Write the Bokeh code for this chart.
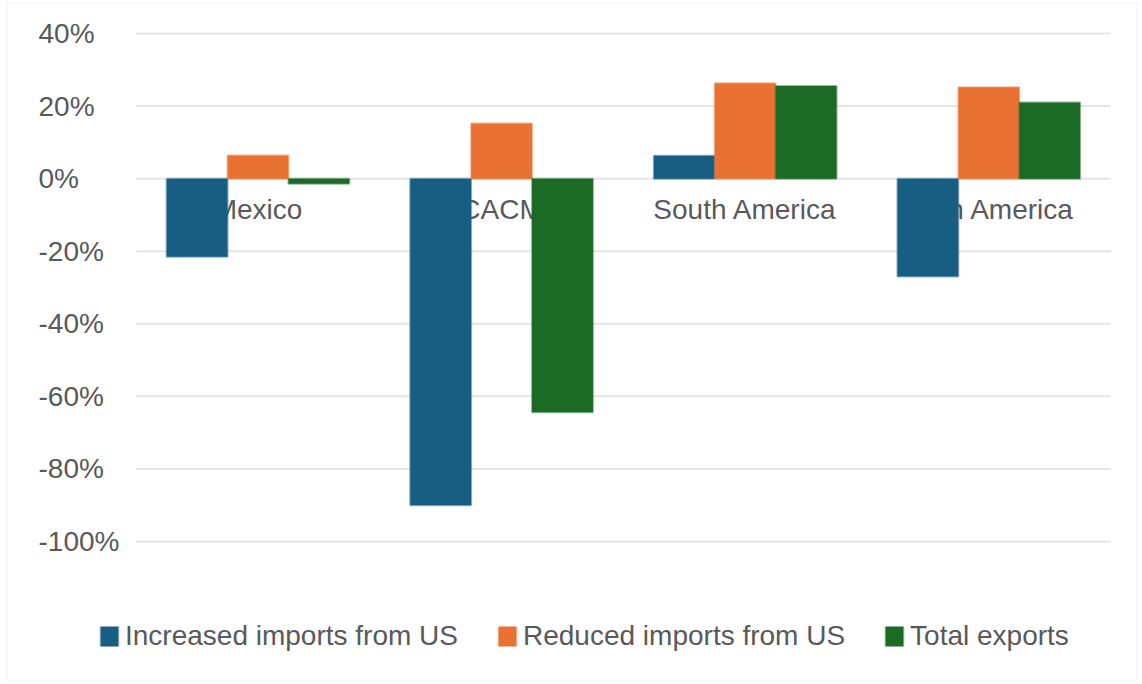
from bokeh.plotting import figure
from bokeh.models import (Range1d, Label, Legend, LegendItem,
                          ColumnDataSource, BoxAnnotation)
from bokeh.transform import dodge
from bokeh.embed import file_html
from bokeh.resources import INLINE
from bokeh.core.properties import value

# ---- data ----
categories = ["Mexico", "CACM", "South America", "Latin America"]
series_names = ["Increased imports from US", "Reduced imports from US", "Total exports"]
increased_imports = [-21.5, -90.0, 6.3, -27.0]
reduced_imports = [6.4, 15.2, 26.3, 25.2]
total_exports = [-1.4, -64.4, 25.5, 21.0]
tick_values = [40, 20, 0, -20, -40, -60, -80, -100]
tick_labels = ["40%", "20%", "0%", "-20%", "-40%", "-60%", "-80%", "-100%"]

colors = ["#175E82", "#E97132", "#1B6B24"]
FONT = "Liberation Sans"
TXT = "#595959"

W, H = 1140, 682
n = len(categories)
idx = list(range(n))
src = ColumnDataSource(dict(x=idx, cat=categories, inc=increased_imports,
                            red=reduced_imports, tot=total_exports))

p = figure(x_range=Range1d(-1.057, -1.057 + W / 243.6),
           y_range=Range1d(49.094 - H / 3.6286, 49.094),
           frame_width=W, frame_height=H, min_border=0,
           output_backend="svg", toolbar_location=None)

p.xaxis.visible = False
p.yaxis.visible = False
p.xgrid.visible = False
p.ygrid.visible = False
p.outline_line_color = None
p.background_fill_color = "white"
p.border_fill_color = "white"

# outer chart border
p.add_layout(BoxAnnotation(left=6, right=1137, bottom=1, top=679,
                           left_units="screen", right_units="screen",
                           bottom_units="screen", top_units="screen",
                           fill_alpha=0, line_color="#e4e4e4", line_width=2))

# horizontal gridlines across the category span
p.segment(x0=-0.5, x1=n - 0.5, y0=tick_values, y1=tick_values,
          line_color="#e4e4e4", line_width=2)

# category labels (drawn under the bars)
p.text(x="x", y=0, text="cat", source=src, text_align="center",
       text_baseline="middle", y_offset=31, text_font=value(FONT),
       text_font_size="28px", text_color=TXT)

renderers = []
for off, col, c in zip([-0.25, 0.0, 0.25], ["inc", "red", "tot"], colors):
    r = p.vbar(x=dodge("x", off), top=col, bottom=0,
               width=0.25, source=src, fill_color=c, line_color=c,
               line_alpha=0.45, line_width=2)
    renderers.append(r)

# y tick labels (left aligned)
for v, t in zip(tick_values, tick_labels):
    p.add_layout(Label(x=38, x_units="screen", y=v, text=t,
                       text_align="left", text_baseline="middle",
                       text_font=FONT, text_font_size="28px",
                       text_color=TXT))

legend = Legend(items=[LegendItem(label=nm, renderers=[r])
                       for nm, r in zip(series_names, renderers)],
                orientation="horizontal", location=(98, 30),
                padding=0, margin=0, spacing=38, label_standoff=5,
                glyph_width=22, glyph_height=24, label_height=24,
                border_line_color=None, background_fill_alpha=0,
                label_text_font=FONT, label_text_font_size="28px",
                label_text_color=TXT)
p.add_layout(legend, "center")

open("out.html", "w").write(file_html(p, INLINE))
